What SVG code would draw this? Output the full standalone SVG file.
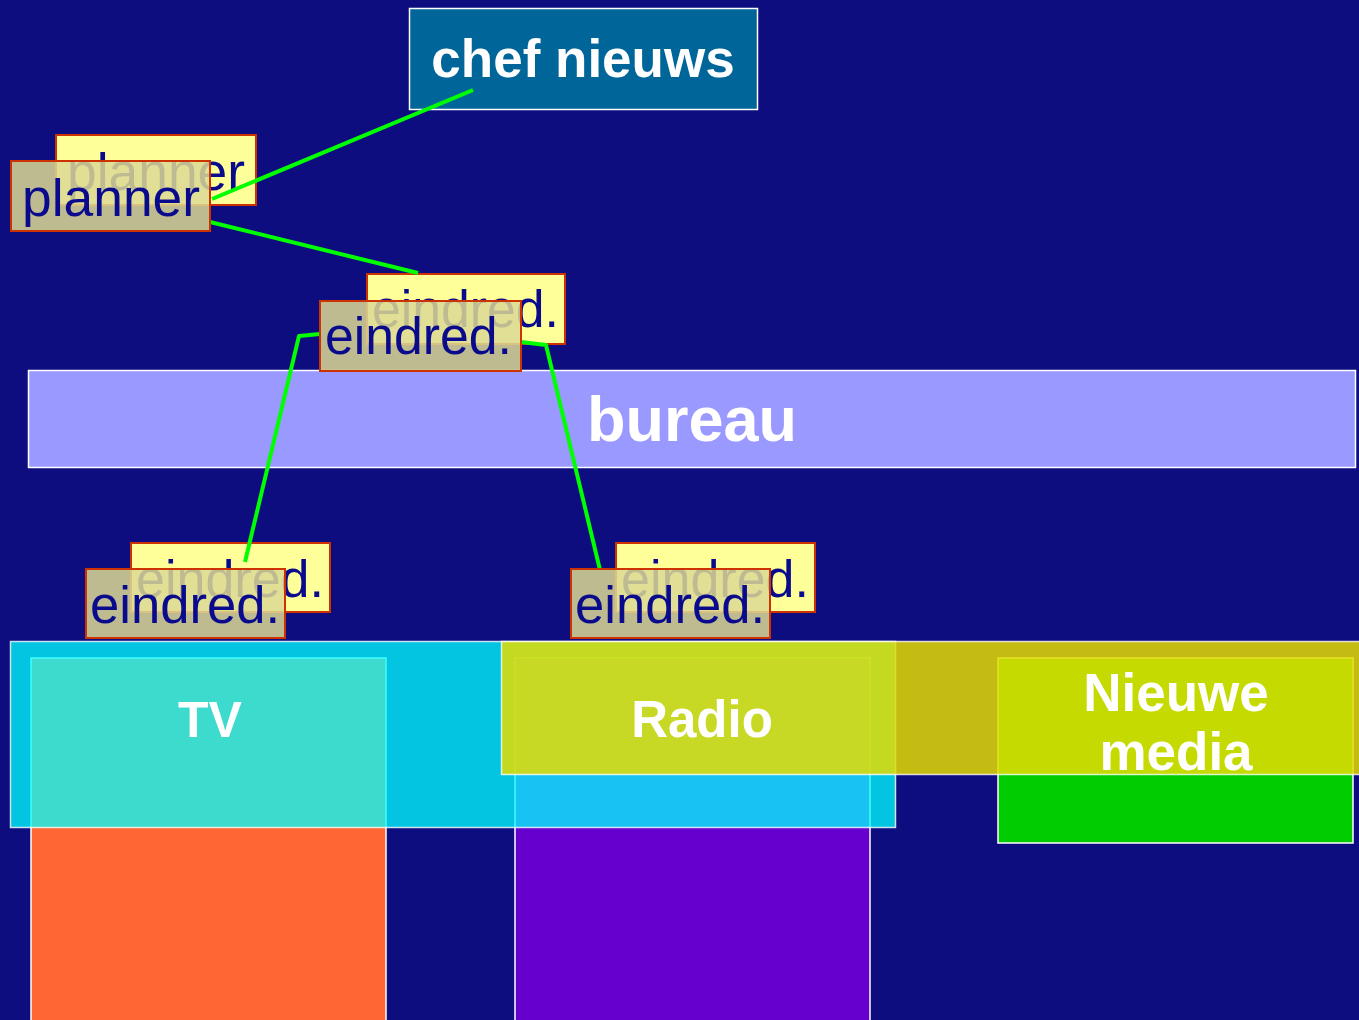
<svg xmlns="http://www.w3.org/2000/svg" width="1359" height="1020" viewBox="0 0 1359 1020">
<style>
.bg{fill:#0d0d80}
.wb{stroke:#ffffff;stroke-width:1.5}
.back{fill:#ffff99;stroke:#cc3300;stroke-width:2}
.front{fill:#dcd894;fill-opacity:0.86;stroke:#cc3300;stroke-width:2}
.lbl{font-family:"Liberation Sans",Arial,sans-serif;font-size:51px;fill:#0a0a8c}
.big{font-family:"Liberation Sans",Arial,sans-serif;font-weight:bold;fill:#ffffff;text-anchor:middle}
.conn{fill:none;stroke:#00ff00;stroke-width:4;stroke-linejoin:round}
</style>
<rect class="bg" x="0" y="0" width="1359" height="1020"/>

<g id="chef-nieuws">
<rect class="wb" x="409.5" y="8.5" width="348" height="101" fill="#006699"/>
<text class="big" x="583" y="77" font-size="53">chef nieuws</text>
</g>

<g id="bureau">
<rect class="wb" x="28.5" y="370.5" width="1327" height="97" fill="#9999ff"/>
<text class="big" x="692" y="441" font-size="63">bureau</text>
</g>

<g id="tv-column"><rect class="wb" x="31" y="658" width="355" height="370" fill="#ff6633"/></g>
<g id="radio-column"><rect class="wb" x="515" y="658" width="355" height="370" fill="#6600cc"/></g>
<g id="nieuwe-media-column"><rect class="wb" x="998" y="658" width="355" height="185" fill="#00cc00"/></g>

<g id="tv">
<rect x="10.5" y="641.5" width="885" height="186" fill="#00ffff" fill-opacity="0.76" stroke="#ffffff" stroke-opacity="0.8" stroke-width="1.5"/>
<text class="big" x="210" y="737" font-size="50">TV</text>
</g>

<g id="radio">
<rect x="501.5" y="641.5" width="870" height="133" fill="#e6dc00" fill-opacity="0.85" stroke="#ffffff" stroke-opacity="0.8" stroke-width="1.5"/>
<text class="big" x="702" y="737" font-size="51">Radio</text>
</g>

<g id="nieuwe-media">
<text class="big" x="1176" y="711" font-size="53">Nieuwe</text>
<text class="big" x="1176" y="770" font-size="53">media</text>
</g>

<g id="planner-back"><rect class="back" x="56" y="135" width="200" height="70"/><text class="lbl" x="67" y="190" textLength="178" lengthAdjust="spacingAndGlyphs">planner</text></g>
<g id="eindred-top-back"><rect class="back" x="367" y="274" width="198" height="70"/><text class="lbl" x="372" y="327" textLength="187" lengthAdjust="spacingAndGlyphs">eindred.</text></g>
<g id="eindred-tv-back"><rect class="back" x="131" y="543" width="199" height="69"/><text class="lbl" x="136" y="597" textLength="188" lengthAdjust="spacingAndGlyphs">eindred.</text></g>
<g id="eindred-radio-back"><rect class="back" x="616" y="543" width="199" height="69"/><text class="lbl" x="621" y="597" textLength="188" lengthAdjust="spacingAndGlyphs">eindred.</text></g>

<g id="connectors">
<line class="conn" x1="473" y1="90" x2="212" y2="199"/>
<line class="conn" x1="210" y1="222" x2="418" y2="273"/>
<polyline class="conn" points="320,334 299,336 245,562"/>
<polyline class="conn" points="521,342 546,345 600,570"/>
</g>

<g id="planner"><rect class="front" x="11" y="161" width="199" height="70"/><text class="lbl" x="22" y="216" textLength="178" lengthAdjust="spacingAndGlyphs">planner</text></g>
<g id="eindred-top"><rect class="front" x="320" y="301" width="201" height="70"/><text class="lbl" x="325" y="354" textLength="187" lengthAdjust="spacingAndGlyphs">eindred.</text></g>
<g id="eindred-tv"><rect class="front" x="86" y="569" width="199" height="69"/><text class="lbl" x="90" y="623" textLength="190" lengthAdjust="spacingAndGlyphs">eindred.</text></g>
<g id="eindred-radio"><rect class="front" x="571" y="569" width="199" height="69"/><text class="lbl" x="575" y="623" textLength="190" lengthAdjust="spacingAndGlyphs">eindred.</text></g>
</svg>
